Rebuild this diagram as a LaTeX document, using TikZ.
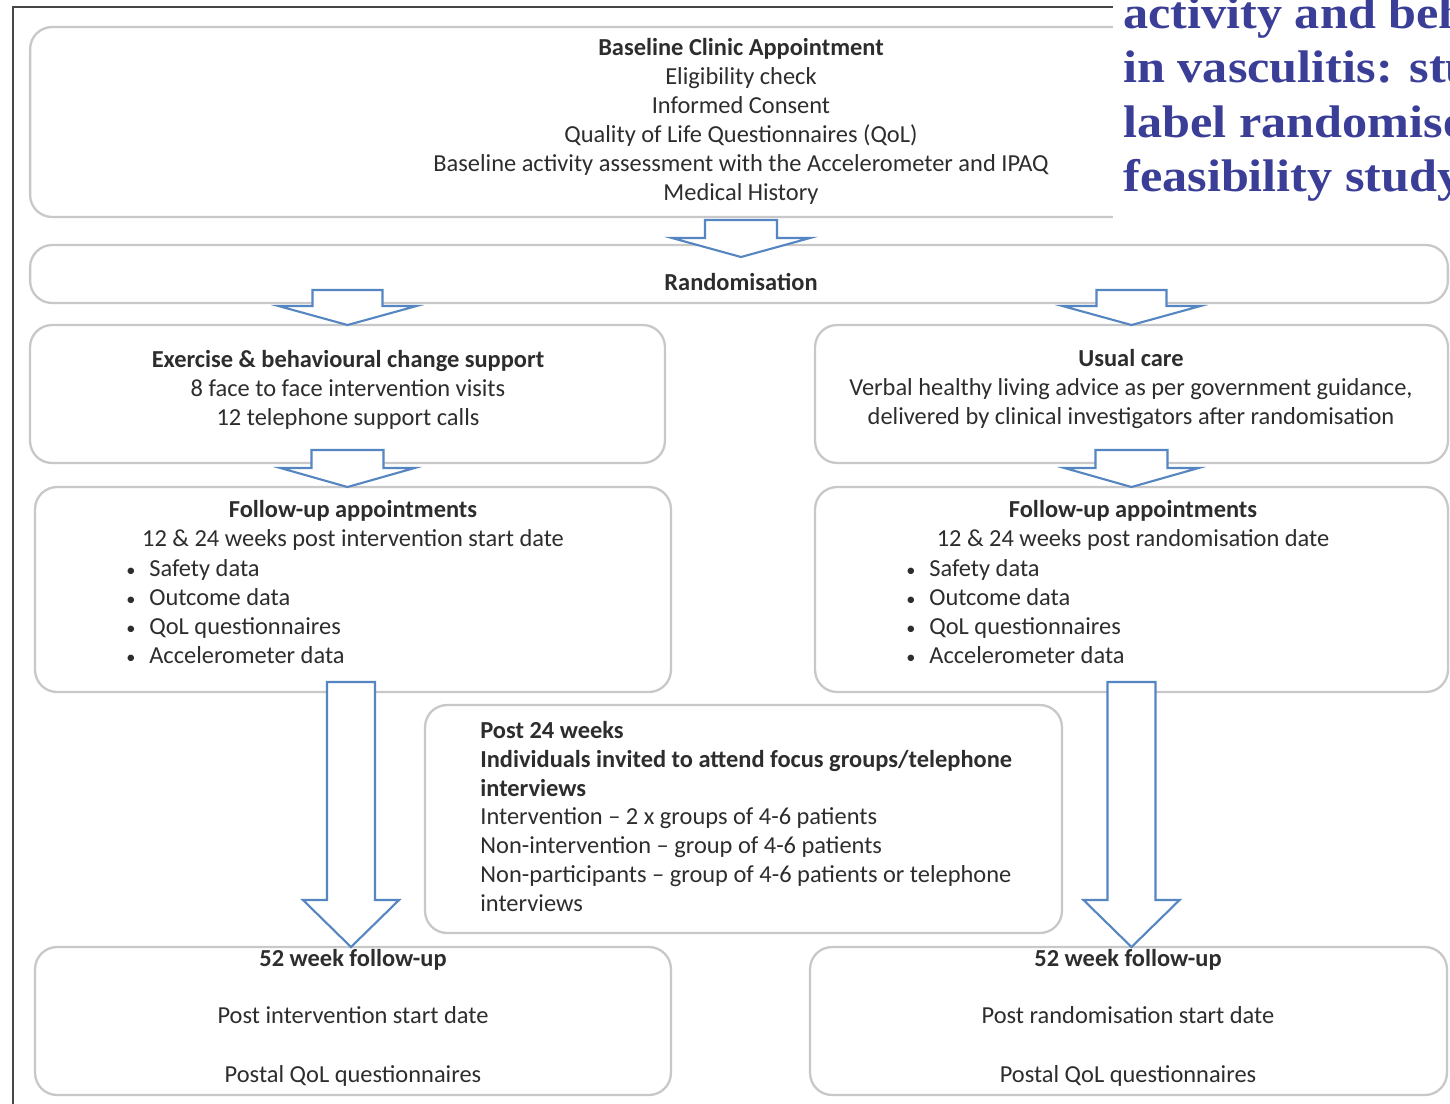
\documentclass[tikz,border=0pt]{standalone}
\usepackage{fontspec}
\setmainfont{Carlito}
\newfontfamily\headfont[FakeStretch=1.1]{Liberation Serif}
\usetikzlibrary{calc}

\definecolor{boxgray}{RGB}{200,200,200}
\definecolor{textgray}{RGB}{45,45,45}
\definecolor{arrowblue}{RGB}{86,134,194}
\definecolor{titleblue}{RGB}{58,62,150}
\definecolor{framegray}{RGB}{70,70,70}

% hollow block arrow: shaft top, tip, shaft half width, wing half width, head length
\newcommand{\blockarrow}[5]{%
  \draw[hollowarrow] let \p1=#1, \p2=#2 in
    (\x1-#3,\y1) -- (\x1+#3,\y1) -- (\x1+#3,\y2+#5) -- (\x1+#4,\y2+#5)
    -- (\x1,\y2) -- (\x1-#4,\y2+#5) -- (\x1-#3,\y2+#5) -- cycle;
}
\newcommand{\bul}{\makebox[0.46cm][l]{\scalebox{0.75}{\textbullet}}}

\begin{document}
\begin{tikzpicture}[x=0.02cm,y=-0.02cm,
  box/.style={draw=boxgray,line width=1.3pt,rounded corners=0.44cm,inner sep=0,outer sep=0},
  hollowarrow/.style={draw=arrowblue,line width=1.2pt,fill=white,line join=miter},
  txt/.style={font=\fontsize{13.9}{16.5}\selectfont,text=textgray,align=center,inner sep=0}]
\clip (0,0) rectangle (1450,1103);
\fill[white] (0,0) rectangle (1450,1103);

% page frame
\draw[framegray,line width=1.6pt] (13,1110) -- (13,7) -- (1450,7);

% boxes
\node[box,minimum width=28.44cm,minimum height=3.80cm] (base) at (741,122) {};
\node[box,minimum width=28.36cm,minimum height=1.16cm] (rand) at (739,274) {};
\node[box,minimum width=12.70cm,minimum height=2.76cm] (exer) at (347.5,394) {};
\node[box,minimum width=12.66cm,minimum height=2.76cm] (usual) at (1131.5,394) {};
\node[box,minimum width=12.72cm,minimum height=4.10cm] (fuL) at (353,589.5) {};
\node[box,minimum width=12.66cm,minimum height=4.10cm] (fuR) at (1131.5,589.5) {};
\node[box,minimum width=12.74cm,minimum height=4.56cm] (post) at (743.5,819) {};
\node[box,minimum width=12.72cm,minimum height=2.96cm] (wkL) at (353,1021) {};
\node[box,minimum width=12.74cm,minimum height=2.96cm] (wkR) at (1128.5,1021) {};

% arrows between the boxes
\blockarrow{($(base.south)+(0,3)$)}{($(rand.north)+(0,12)$)}{0.72cm}{1.38cm}{0.38cm}
\blockarrow{($(rand.south -| exer.north)+(0,-13)$)}{(exer.north)}{0.70cm}{1.38cm}{0.38cm}
\blockarrow{($(rand.south -| usual.north)+(0,-13)$)}{(usual.north)}{0.70cm}{1.38cm}{0.38cm}
\blockarrow{($(exer.south)+(0,-13)$)}{(fuL.north)}{0.72cm}{1.34cm}{0.38cm}
\blockarrow{($(usual.south)+(0,-13)$)}{(fuR.north)}{0.72cm}{1.34cm}{0.38cm}
\blockarrow{($(fuL.south)+(-2,-10)$)}{(wkL.north)}{0.48cm}{0.96cm}{0.94cm}
\blockarrow{($(fuR.south)+(0,-10)$)}{(wkR.north)}{0.48cm}{0.96cm}{0.94cm}

% title cut off at the top right
\fill[white] (1113,0) rectangle (1450,225);
\node[anchor=west,align=left,inner sep=0,text=titleblue,
  font=\headfont\bfseries\fontsize{26}{31}\selectfont] (title) at (1123,99)
  {activity and beh\\in vasculitis: stu\\label randomise\\feasibility study};

% texts
\node[txt] (baseText) at (741,121.5) {\textbf{Baseline Clinic Appointment}\\Eligibility check\\Informed Consent\\
  Quality of Life Questionnaires (QoL)\\Baseline activity assessment with the Accelerometer and IPAQ\\Medical History};
\node[txt] (randText) at (741,282) {\textbf{Randomisation}};
\node[txt] (exerText) at (348,389.5) {\textbf{Exercise \& behavioural change support}\\
  8 face to face intervention visits\\12 telephone support calls};
\node[txt] (usualText) at (1131,389.5) {\textbf{Usual care}\\
  Verbal healthy living advice as per government guidance,\\delivered by clinical investigators after randomisation};

\node[txt] (fuLHead) at (353,525) {\textbf{Follow-up appointments}\\12 \& 24 weeks post intervention start date};
\node[txt,align=left,anchor=west] (fuLList) at (126,612)
  {\bul Safety data\\\bul Outcome data\\\bul QoL questionnaires\\\bul Accelerometer data};
\node[txt] (fuRHead) at (1133,525) {\textbf{Follow-up appointments}\\12 \& 24 weeks post randomisation date};
\node[txt,align=left,anchor=west] (fuRList) at (906,612)
  {\bul Safety data\\\bul Outcome data\\\bul QoL questionnaires\\\bul Accelerometer data};

\node[txt,align=left,anchor=west] (postText) at (480,816.5)
  {\textbf{Post 24 weeks}\\\textbf{Individuals invited to attend focus groups/telephone}\\\textbf{interviews}\\
   Intervention -- 2 x groups of 4-6 patients\\Non-intervention -- group of 4-6 patients\\
   Non-participants -- group of 4-6 patients or telephone\\interviews};

\node[txt] (wkLText) at (353,1017.5) {\textbf{52 week follow-up}\\[0.56cm]Post intervention start date\\[0.6cm]Postal QoL questionnaires};
\node[txt] (wkRText) at (1128,1017.5) {\textbf{52 week follow-up}\\[0.56cm]Post randomisation start date\\[0.6cm]Postal QoL questionnaires};
\end{tikzpicture}
\end{document}
